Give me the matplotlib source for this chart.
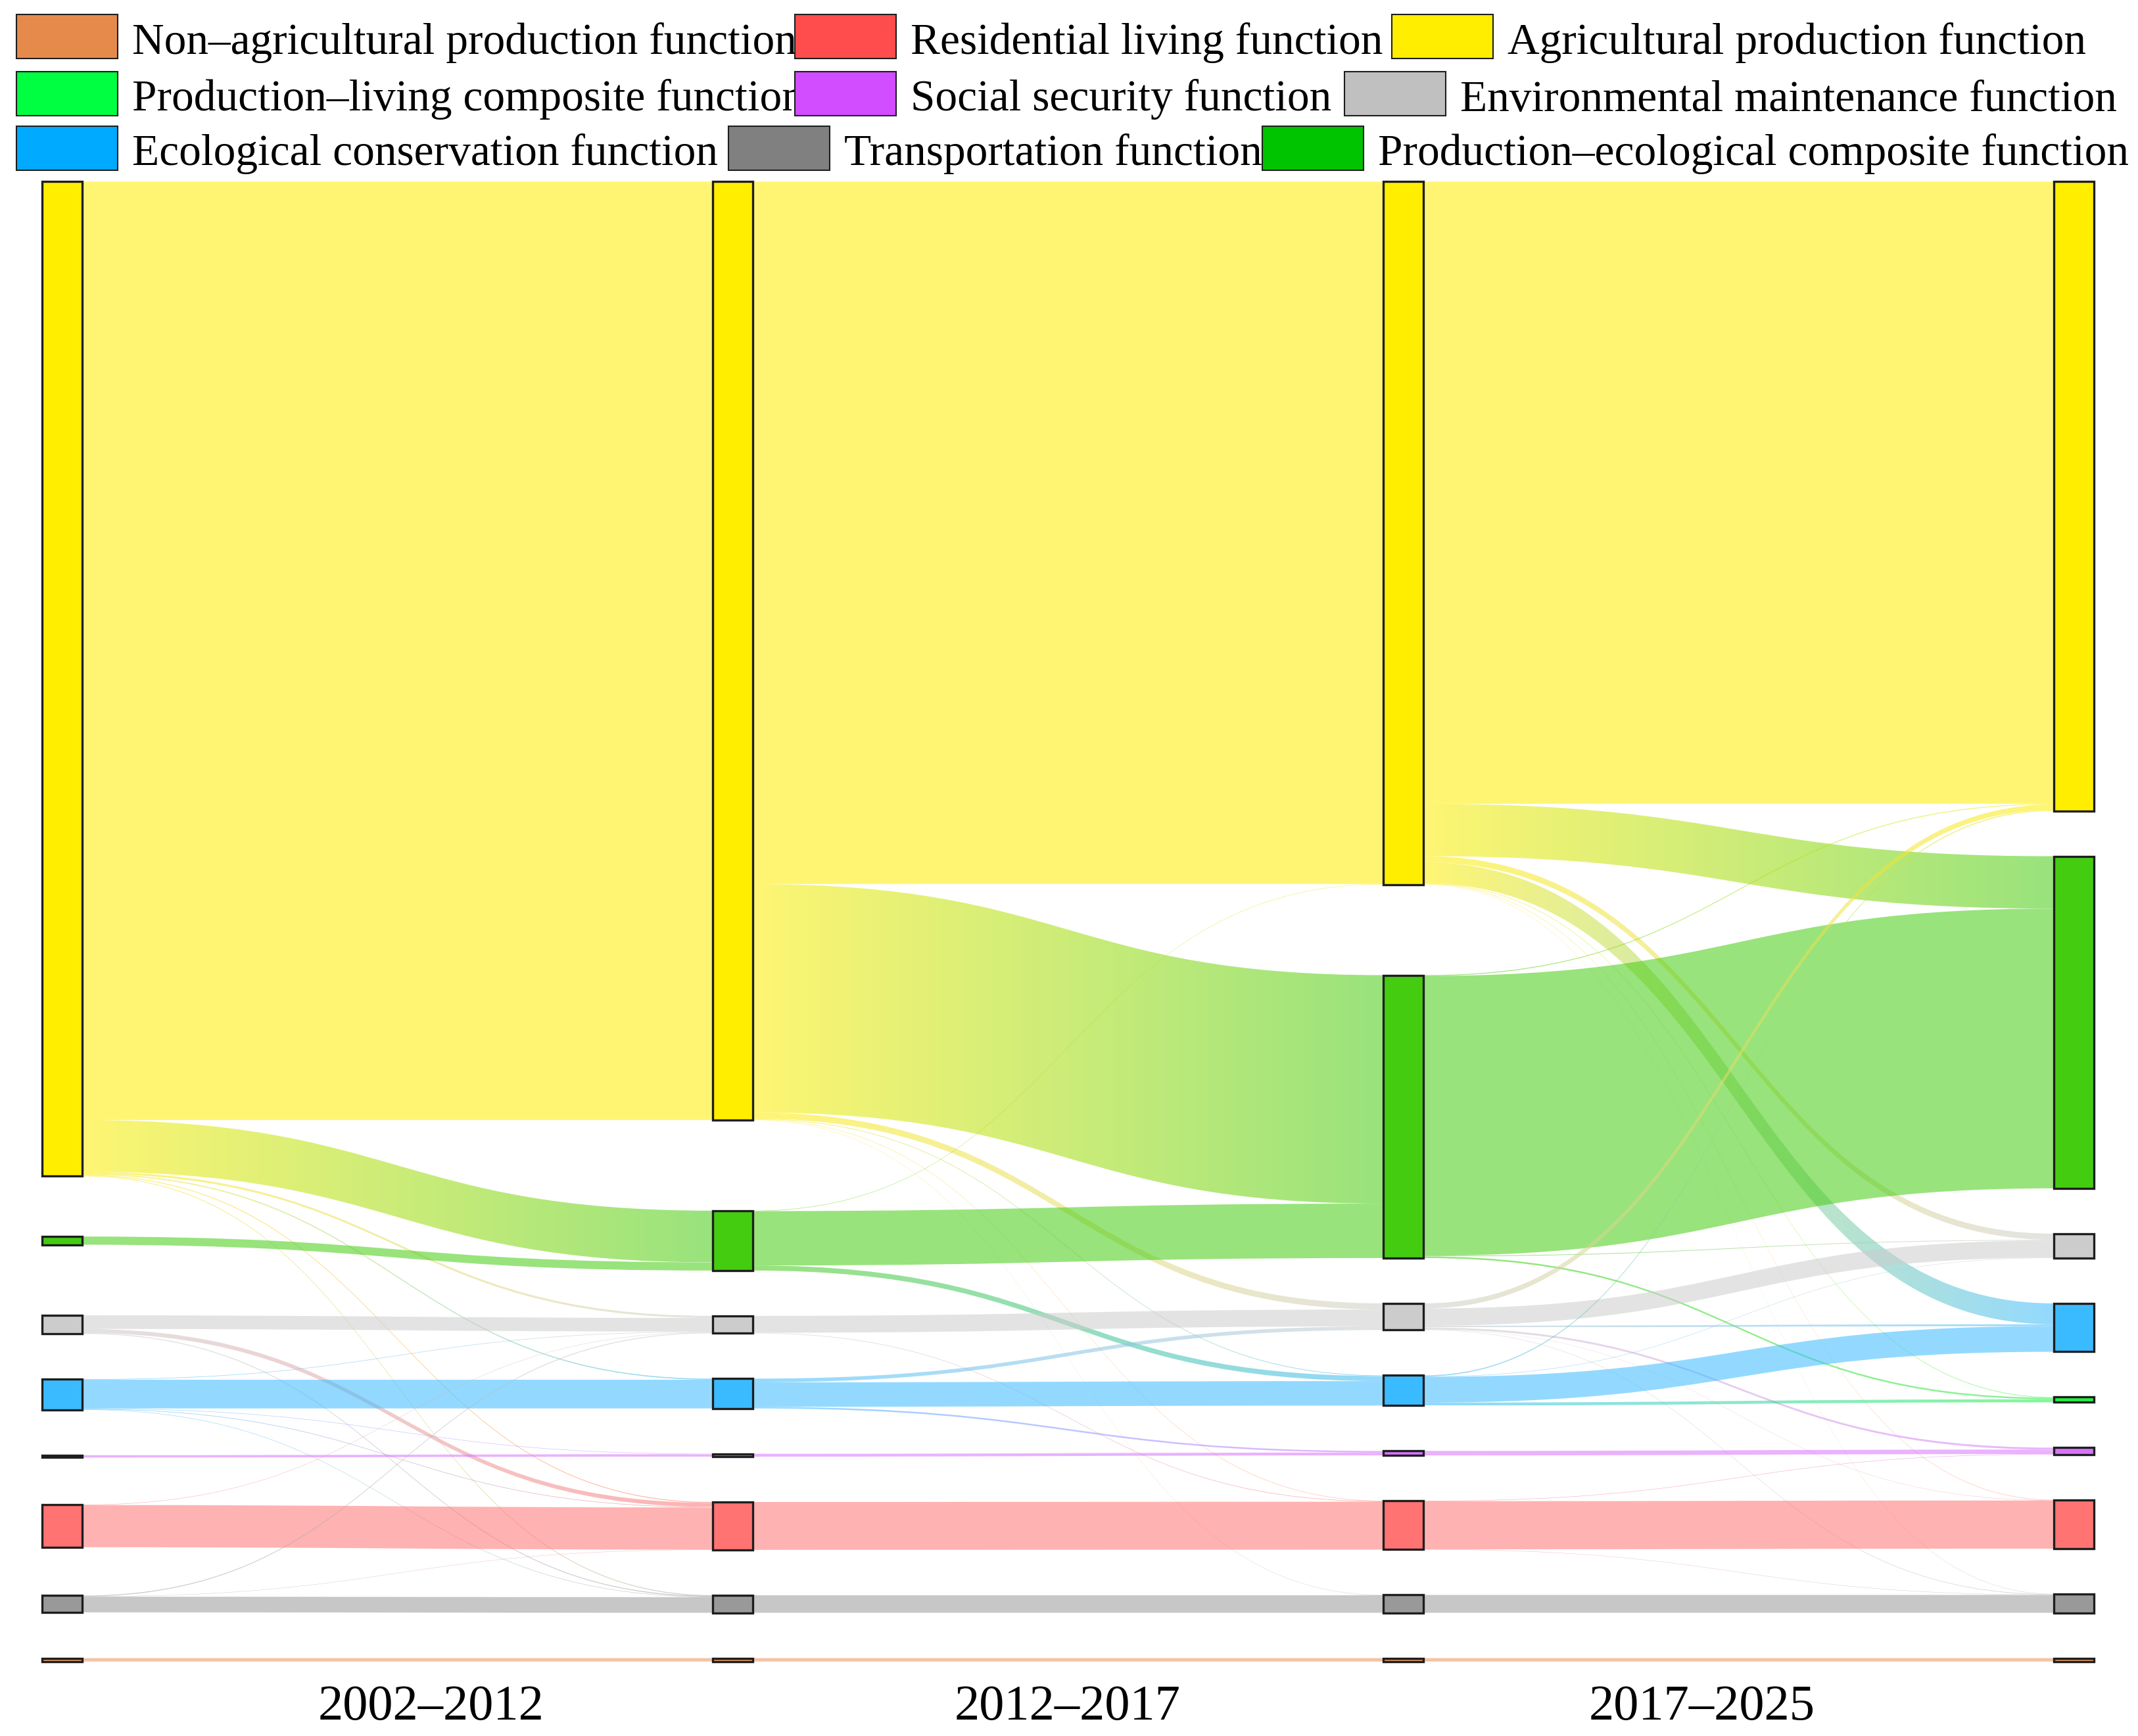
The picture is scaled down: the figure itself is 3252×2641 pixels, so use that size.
import numpy as np
import matplotlib
matplotlib.use('Agg')
import matplotlib.pyplot as plt
from matplotlib.path import Path
from matplotlib.patches import PathPatch, Rectangle
from matplotlib.colors import to_rgba

# ---------------------------------------------------------------- data
categories = ['NA', 'RES', 'AGR', 'PL', 'SS', 'ENV', 'ECO', 'TR', 'PE']
category_labels = [
    'Non–agricultural production function',
    'Residential living function',
    'Agricultural production function',
    'Production–living composite function',
    'Social security function',
    'Environmental maintenance function',
    'Ecological conservation function',
    'Transportation function',
    'Production–ecological composite function',
]
periods = ['2002–2012', '2012–2017', '2017–2025']

# land-function transfer flows (source, target, relative area)
flows_2002_2012 = [
    ('AGR', 'AGR', 690.0), ('AGR', 'PE', 38.0), ('AGR', 'ENV', 1.5),
    ('AGR', 'ECO', 0.8), ('AGR', 'RES', 0.6), ('AGR', 'TR', 0.5),
    ('PE', 'PE', 6.0),
    ('ENV', 'ENV', 10.0), ('ENV', 'RES', 3.0), ('ENV', 'TR', 0.6),
    ('ECO', 'ENV', 0.4), ('ECO', 'ECO', 21.1), ('ECO', 'SS', 0.3),
    ('ECO', 'RES', 0.4), ('ECO', 'TR', 0.3),
    ('SS', 'SS', 1.8),
    ('RES', 'ENV', 0.3), ('RES', 'RES', 31.0),
    ('TR', 'ENV', 0.6), ('TR', 'RES', 0.2), ('TR', 'TR', 11.5),
    ('NA', 'NA', 2.5),
]
flows_2012_2017 = [
    ('AGR', 'AGR', 516.5), ('AGR', 'PE', 168.0), ('AGR', 'ENV', 4.5),
    ('AGR', 'ECO', 0.5), ('AGR', 'RES', 0.3), ('AGR', 'TR', 0.2),
    ('PE', 'AGR', 0.3), ('PE', 'PE', 40.0), ('PE', 'ECO', 3.7),
    ('ENV', 'ENV', 12.4), ('ENV', 'RES', 0.4),
    ('ECO', 'ENV', 2.7), ('ECO', 'ECO', 18.0), ('ECO', 'SS', 1.2),
    ('SS', 'SS', 2.1),
    ('RES', 'RES', 35.2),
    ('TR', 'TR', 12.9),
    ('NA', 'NA', 2.5),
]
flows_2017_2025 = [
    ('AGR', 'AGR', 457.5), ('AGR', 'PE', 38.5), ('AGR', 'ENV', 4.5),
    ('AGR', 'ECO', 15.4), ('AGR', 'PL', 0.4), ('AGR', 'RES', 0.3),
    ('AGR', 'TR', 0.2),
    ('PE', 'AGR', 0.6), ('PE', 'PE', 205.7), ('PE', 'ENV', 0.5),
    ('PE', 'PL', 1.2),
    ('ENV', 'AGR', 3.8), ('ENV', 'ENV', 12.6), ('ENV', 'ECO', 1.3),
    ('ENV', 'SS', 1.4), ('ENV', 'RES', 0.2), ('ENV', 'TR', 0.3),
    ('ECO', 'AGR', 0.8), ('ECO', 'ENV', 0.3), ('ECO', 'ECO', 18.9),
    ('ECO', 'PL', 2.2),
    ('SS', 'SS', 3.3),
    ('RES', 'SS', 0.3), ('RES', 'RES', 35.4), ('RES', 'TR', 0.2),
    ('TR', 'TR', 13.1),
    ('NA', 'NA', 2.5),
]
period_flows = [flows_2002_2012, flows_2012_2017, flows_2017_2025]

# ---------------------------------------------------------------- styles
legend_colors = {'NA': '#E68A4C', 'RES': '#FF4D4D', 'AGR': '#FFEE00',
                 'PL': '#00FF40', 'SS': '#D24DFF', 'ENV': '#C0C0C0',
                 'ECO': '#00AAFF', 'TR': '#808080', 'PE': '#00C400'}
node_colors = {'NA': '#E8955C', 'RES': '#FF7373', 'AGR': '#FFEE00',
               'PL': '#22F044', 'SS': '#D973FF', 'ENV': '#CCCCCC',
               'ECO': '#3BBBFF', 'TR': '#999999', 'PE': '#44CC11'}
stack_order = ['AGR', 'PE', 'ENV', 'ECO', 'PL', 'SS', 'RES', 'TR', 'NA']
LINK_ALPHA = 0.55
SERIF = ['Liberation Serif', 'DejaVu Serif']

W, H, DPI = 3252, 2641, 100
LAYOUT_LEFT, LAYOUT_RIGHT = 63.5, 3185.0
LAYOUT_TOP, LAYOUT_BOTTOM = 276.3, 2527.7
NODE_W, NODE_GAP = 61.5, 69.0

# ---------------------------------------------------------------- layout
ncol = len(period_flows) + 1
present = [set() for _ in range(ncol)]
for p, flows in enumerate(period_flows):
    for s, t, v in flows:
        present[p].add(s)
        present[p + 1].add(t)

nodes = {}
columns = []
for c in range(ncol):
    col = []
    for cat in stack_order:
        if cat in present[c]:
            n = {'col': c, 'cat': cat, 'in': [], 'out': []}
            nodes[(c, cat)] = n
            col.append(n)
    columns.append(col)

edges = []
for p, flows in enumerate(period_flows):
    for s, t, v in flows:
        e = {'src': nodes[(p, s)], 'dst': nodes[(p + 1, t)], 'v': v}
        e['src']['out'].append(e)
        e['dst']['in'].append(e)
        edges.append(e)

for n in nodes.values():
    n['value'] = max(sum(e['v'] for e in n['in']),
                     sum(e['v'] for e in n['out']))

height = LAYOUT_BOTTOM - LAYOUT_TOP
ky = min((height - (len(col) - 1) * NODE_GAP) / sum(n['value'] for n in col)
         for col in columns)
spacing = (LAYOUT_RIGHT - NODE_W - LAYOUT_LEFT) / (ncol - 1)


def resolve(col):
    y0 = LAYOUT_TOP
    for n in col:
        if n['y'] < y0:
            n['y'] = y0
        y0 = n['y'] + n['dy'] + NODE_GAP
    over = y0 - NODE_GAP - LAYOUT_BOTTOM
    if over > 0:
        col[-1]['y'] -= over
        y0 = col[-1]['y']
        for n in reversed(col[:-1]):
            d = n['y'] + n['dy'] + NODE_GAP - y0
            if d > 0:
                n['y'] -= d
            y0 = n['y']


for c, col in enumerate(columns):
    for n in col:
        n['x'] = LAYOUT_LEFT + c * spacing
        n['dy'] = n['value'] * ky
    # largest (first) node anchored at the top, the rest packed from the bottom
    col[0]['y'] = LAYOUT_TOP
    yb = LAYOUT_BOTTOM
    for n in reversed(col[1:]):
        n['y'] = yb - n['dy']
        yb = n['y'] - NODE_GAP

# first column: centre each node on the node receiving its largest outflow
for n in columns[0][1:]:
    main = max(n['out'], key=lambda e: e['v'])['dst']
    n['y'] = main['y'] + main['dy'] / 2 - n['dy'] / 2
resolve(columns[0])

for n in nodes.values():
    n['out'].sort(key=lambda e: e['dst']['y'])
    n['in'].sort(key=lambda e: e['src']['y'])
    sy = 0.0
    for e in n['out']:
        e['sy'] = sy
        sy += e['v'] * ky
    ty = 0.0
    for e in n['in']:
        e['ty'] = ty
        ty += e['v'] * ky

# ---------------------------------------------------------------- drawing
fig = plt.figure(figsize=(W / DPI, H / DPI), dpi=DPI)
ax = fig.add_axes([0, 0, 1, 1])
ax.axis('off')

t = np.linspace(0, 1, 512)[None, :, None]
for e in edges:
    s, d = e['src'], e['dst']
    x1 = s['x'] + NODE_W
    x2 = d['x']
    y1 = s['y'] + e['sy']
    y2 = d['y'] + e['ty']
    w = e['v'] * ky
    xm = 0.5 * (x1 + x2)
    verts = [(x1, y1), (xm, y1), (xm, y2), (x2, y2),
             (x2, y2 + w), (xm, y2 + w), (xm, y1 + w), (x1, y1 + w), (x1, y1)]
    codes = [Path.MOVETO, Path.CURVE4, Path.CURVE4, Path.CURVE4,
             Path.LINETO, Path.CURVE4, Path.CURVE4, Path.CURVE4, Path.CLOSEPOLY]
    path = Path(verts, codes)
    cs, ct = node_colors[s['cat']], node_colors[d['cat']]
    if cs == ct:
        ax.add_patch(PathPatch(path, facecolor=cs, edgecolor='none',
                               alpha=LINK_ALPHA, zorder=1))
    else:
        patch = PathPatch(path, facecolor='none', edgecolor='none',
                          transform=ax.transData)
        ax.add_patch(patch)
        c1 = np.array(to_rgba(cs))
        c2 = np.array(to_rgba(ct))
        img = c1 * (1 - t) + c2 * t
        img[..., 3] = LINK_ALPHA
        ymin = min(y1, y2)
        ymax = max(y1, y2) + w
        im = ax.imshow(img, extent=[x1, x2, ymax, ymin], aspect='auto',
                       interpolation='bilinear', zorder=1)
        im.set_clip_path(patch)

for n in nodes.values():
    ax.add_patch(Rectangle((n['x'], n['y']), NODE_W, n['dy'],
                           facecolor=node_colors[n['cat']],
                           edgecolor='#1E1E1E', linewidth=2.4, zorder=3))

# legend (3 x 3 flowed rows)
legend_rows_y = [55.8, 142.5, 225.3]
legend_box_x = [[25, 1209, 2117], [25, 1209, 2045], [25, 1108, 1920]]
BOX_W, BOX_H = 154, 67
k = 0
for r, ycen in enumerate(legend_rows_y):
    for bx in legend_box_x[r]:
        cat = categories[k]
        ax.add_patch(Rectangle((bx, ycen - BOX_H / 2), BOX_W, BOX_H,
                               facecolor=legend_colors[cat],
                               edgecolor='#1E1E1E', linewidth=1.5, zorder=6))
        ax.text(bx + BOX_W + 22, ycen + 26, category_labels[k],
                fontsize=48.5, family=SERIF, ha='left', va='baseline',
                color='black', zorder=5)
        k += 1

# period labels
label_frac = [0.2015, 0.4994, 0.796]
for lab, f in zip(periods, label_frac):
    ax.text(f * W, 2616, lab, fontsize=55, family=SERIF,
            ha='center', va='baseline', color='black', zorder=5)

ax.set_xlim(0, W)
ax.set_ylim(H, 0)
fig.savefig('out.png', dpi=DPI, facecolor='white')
